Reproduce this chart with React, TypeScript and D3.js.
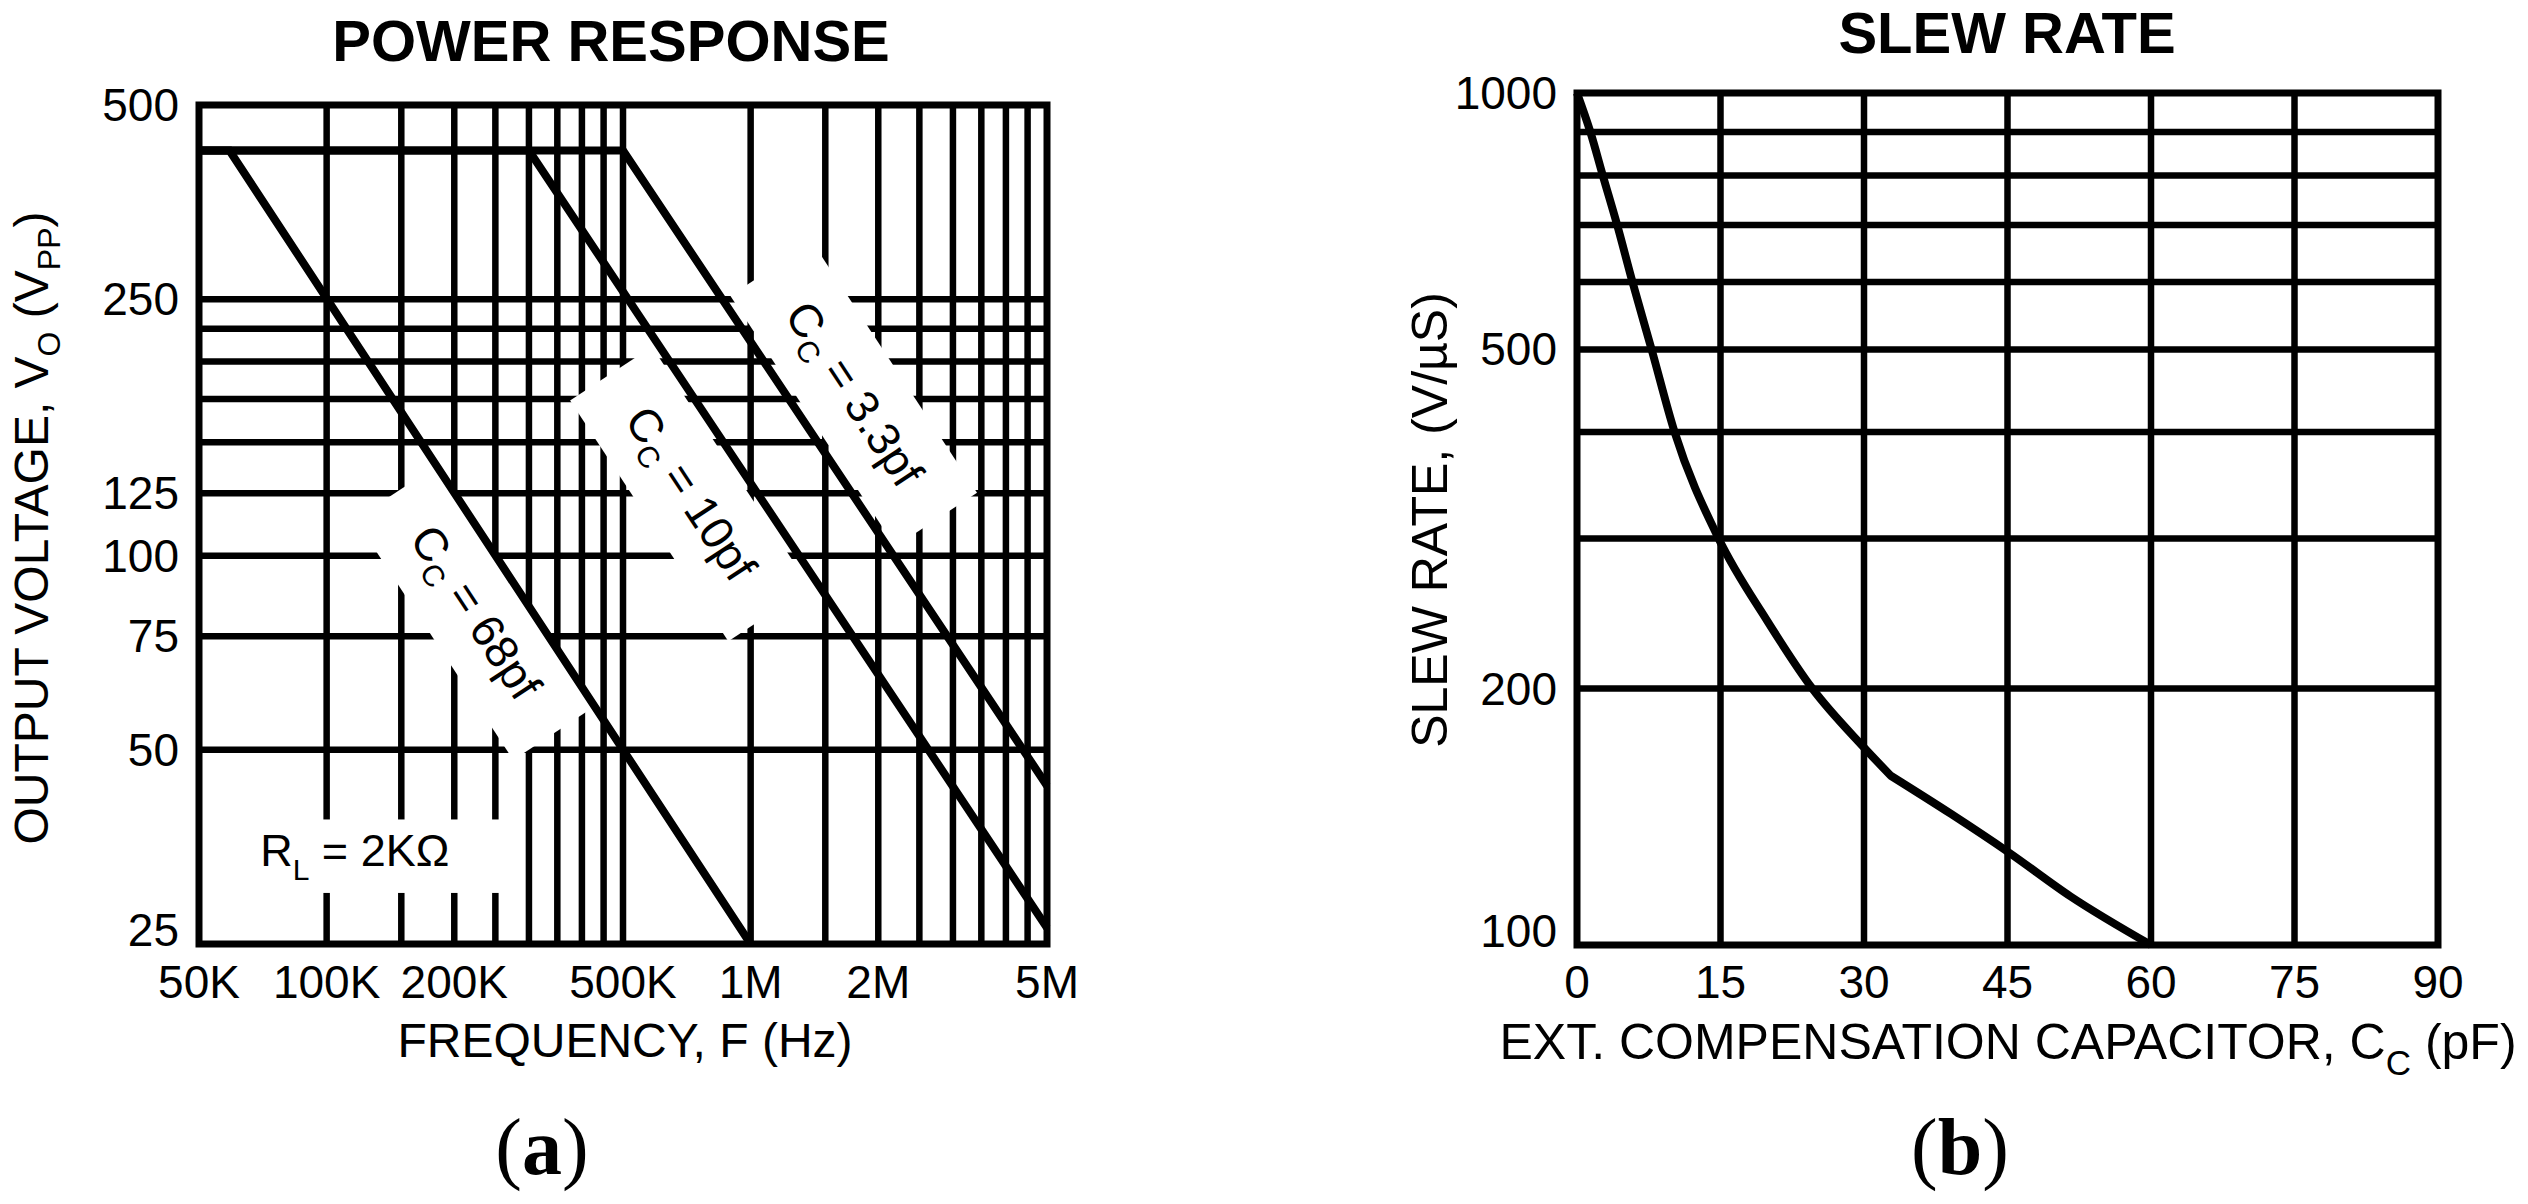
import React from "react";
import * as d3 from "d3";

const W = 2528;
const H = 1204;
const FONT = "'Liberation Sans', Arial, Helvetica, sans-serif";
const SERIF = "'Liberation Serif', 'Times New Roman', serif";

// ---- (a) power response ----
const freqTicks = [5e4, 1e5, 2e5, 5e5, 1e6, 2e6, 5e6];
const freqTickLabels = ["50K", "100K", "200K", "500K", "1M", "2M", "5M"];
const freqGrid = [
  1e5, 1.5e5, 2e5, 2.5e5, 3e5, 3.5e5, 4e5, 4.5e5, 5e5,
  1e6, 1.5e6, 2e6, 2.5e6, 3e6, 3.5e6, 4e6, 4.5e6,
];
const voltTicks = [25, 50, 75, 100, 125, 250, 500];
const voltGrid = [50, 75, 100, 125, 150, 175, 200, 225, 250];

const cc68Freq = [5e4, 5.9e4, 1e6];
const cc68Volt = [425, 425, 25];
const cc10Freq = [5e4, 3e5, 5e6];
const cc10Volt = [425, 425, 26.5];
const cc33Freq = [5e4, 5e5, 5e6];
const cc33Volt = [425, 425, 44];

const curveNames = ["68pf", "10pf", "3.3pf"];
// where each label sits (data coords)
const labelFreq = [2.24e5, 7.2e5, 1.75e6];
const labelVolt = [81.6, 124.7, 178];

// ---- (b) slew rate ----
const capTicks = [0, 15, 30, 45, 60, 75, 90];
const capGrid = [15, 30, 45, 60, 75];
const slewTicks = [100, 200, 500, 1000];
const slewGrid = [200, 300, 400, 500, 600, 700, 800, 900];
const capValues = [0, 1.4, 2.7, 4.2, 5.8, 7.8, 10.2, 14.8, 19.9, 24.6, 29.9, 32.8, 39.1, 45.1, 51.6, 60];
const slewValues = [1000, 900, 800, 700, 600, 500, 400, 300, 240, 200, 171, 158, 142.5, 128.5, 114, 100];
const kinkIndex = 11; // the curve bends here

const GRID_W = 6.5;
const CURVE_W = 8;
const BORDER_W = 7;

const App = () => {
  const xA = d3.scaleLog().domain([5e4, 5e6]).range([199, 1047]);
  const yA = d3.scaleLog().domain([25, 500]).range([944, 105]);
  const xB = d3.scaleLinear().domain([0, 90]).range([1577, 2438]);
  const yB = d3.scaleLog().domain([100, 1000]).range([945, 93]);

  const [ax0, ax1] = xA.range();
  const [ay0, ay1] = yA.range();
  const [bx0, bx1] = xB.range();
  const [by0, by1] = yB.range();

  const series = [
    { f: cc68Freq, v: cc68Volt },
    { f: cc10Freq, v: cc10Volt },
    { f: cc33Freq, v: cc33Volt },
  ];
  const lineA = d3
    .line<[number, number]>()
    .x((d) => xA(d[0]))
    .y((d) => yA(d[1]));

  const smoothB = d3
    .line<[number, number]>()
    .x((d) => xB(d[0]))
    .y((d) => yB(d[1]))
    .curve(d3.curveMonotoneX);
  const slewData: [number, number][] = capValues.map((c, i) => [c, slewValues[i]]);
  const slewPath =
    (smoothB(slewData.slice(0, kinkIndex + 1)) || "") +
    (smoothB(slewData.slice(kinkIndex)) || "").replace(/^M/, "L");

  // slope of the -1 decade/decade lines, in pixels
  const angle =
    (Math.atan2(yA(10) - yA(100), xA(5e5) - xA(5e4)) * 180) / Math.PI;

  const labelLen = [204, 204, 216];

  return (
    <svg
      width={W}
      height={H}
      style={{ position: "absolute", left: 0, top: 0, background: "#fff" }}
      fontFamily={FONT}
    >
      <rect x={0} y={0} width={W} height={H} fill="#fff" />

      {/* ================= (a) ================= */}
      <text x={611} y={61} textAnchor="middle" fontWeight="bold" fontSize={58}>
        POWER RESPONSE
      </text>

      {freqGrid.map((f) => (
        <line key={"fg" + f} x1={xA(f)} x2={xA(f)} y1={ay1} y2={ay0} stroke="#000" strokeWidth={GRID_W} />
      ))}
      {voltGrid.map((v) => (
        <line key={"vg" + v} x1={ax0} x2={ax1} y1={yA(v)} y2={yA(v)} stroke="#000" strokeWidth={GRID_W} />
      ))}

      {curveNames.map((name, i) => {
        const cx = xA(labelFreq[i]);
        const cy = yA(labelVolt[i]);
        const bw = labelLen[i] + 84;
        return (
          <g key={"lb" + name} transform={`translate(${cx},${cy}) rotate(${angle})`}>
            <rect x={-bw / 2} y={-49} width={bw} height={98} fill="#fff" />
            <text x={0} y={15} textAnchor="middle" fontSize={46}>
              C
              <tspan fontSize={30} dy={10}>C</tspan>
              <tspan dy={-10}>{" = " + name}</tspan>
            </text>
          </g>
        );
      })}

      <rect
        x={xA(5.2e4)}
        y={yA(39)}
        width={xA(2.75e5) - xA(5.2e4)}
        height={yA(30) - yA(39)}
        fill="#fff"
      />
      <text x={xA(6.97e4)} y={yA(33)} fontSize={45}>
        R
        <tspan fontSize={30} dy={14}>L</tspan>
        <tspan dy={-14}>{" = 2KΩ"}</tspan>
      </text>

      {series.map((s, i) => (
        <path
          key={"c" + i}
          d={lineA(s.f.map((f, j) => [f, s.v[j]] as [number, number])) || ""}
          fill="none"
          stroke="#000"
          strokeWidth={CURVE_W}
          strokeLinejoin="miter"
        />
      ))}

      <rect x={ax0} y={ay1} width={ax1 - ax0} height={ay0 - ay1} fill="none" stroke="#000" strokeWidth={BORDER_W} />

      {voltTicks.map((v) => (
        <text
          key={"vt" + v}
          x={179}
          y={v === 25 ? ay0 + 2 : yA(v) + 16}
          textAnchor="end"
          fontSize={46}
        >
          {v}
        </text>
      ))}
      {freqTicks.map((f, i) => (
        <text key={"ft" + f} x={xA(f)} y={998} textAnchor="middle" fontSize={46}>
          {freqTickLabels[i]}
        </text>
      ))}

      <text x={625} y={1057} textAnchor="middle" fontSize={48}>
        FREQUENCY, F (Hz)
      </text>
      <text transform="translate(48,528) rotate(-90)" textAnchor="middle" fontSize={48}>
        OUTPUT VOLTAGE, V
        <tspan fontSize={32} dy={12}>O</tspan>
        <tspan dy={-12}>{" (V"}</tspan>
        <tspan fontSize={32} dy={12}>PP</tspan>
        <tspan dy={-12}>)</tspan>
      </text>

      <text x={542} y={1174} textAnchor="middle" fontSize={80} fontFamily={SERIF}>
        (<tspan fontWeight="bold">a</tspan>)
      </text>

      {/* ================= (b) ================= */}
      <text x={2007} y={53} textAnchor="middle" fontWeight="bold" fontSize={58}>
        SLEW RATE
      </text>

      {capGrid.map((c) => (
        <line key={"cg" + c} x1={xB(c)} x2={xB(c)} y1={by1} y2={by0} stroke="#000" strokeWidth={GRID_W} />
      ))}
      {slewGrid.map((v) => (
        <line key={"sg" + v} x1={bx0} x2={bx1} y1={yB(v)} y2={yB(v)} stroke="#000" strokeWidth={GRID_W} />
      ))}

      <path d={slewPath} fill="none" stroke="#000" strokeWidth={CURVE_W} strokeLinejoin="round" />

      <rect x={bx0} y={by1} width={bx1 - bx0} height={by0 - by1} fill="none" stroke="#000" strokeWidth={BORDER_W} />

      {slewTicks.map((v) => (
        <text
          key={"st" + v}
          x={1557}
          y={v === 100 ? by0 + 2 : yB(v) + 16}
          textAnchor="end"
          fontSize={46}
        >
          {v}
        </text>
      ))}
      {capTicks.map((c) => (
        <text key={"ct" + c} x={xB(c)} y={998} textAnchor="middle" fontSize={46}>
          {c}
        </text>
      ))}

      <text x={2008} y={1059} textAnchor="middle" fontSize={50}>
        EXT. COMPENSATION CAPACITOR, C
        <tspan fontSize={35} dy={16}>C</tspan>
        <tspan dy={-16}>{" (pF)"}</tspan>
      </text>
      <text transform="translate(1447,520) rotate(-90)" textAnchor="middle" fontSize={50}>
        SLEW RATE, (V/µS)
      </text>

      <text x={1960} y={1174} textAnchor="middle" fontSize={80} fontFamily={SERIF}>
        (<tspan fontWeight="bold">b</tspan>)
      </text>
    </svg>
  );
};

export default App;
